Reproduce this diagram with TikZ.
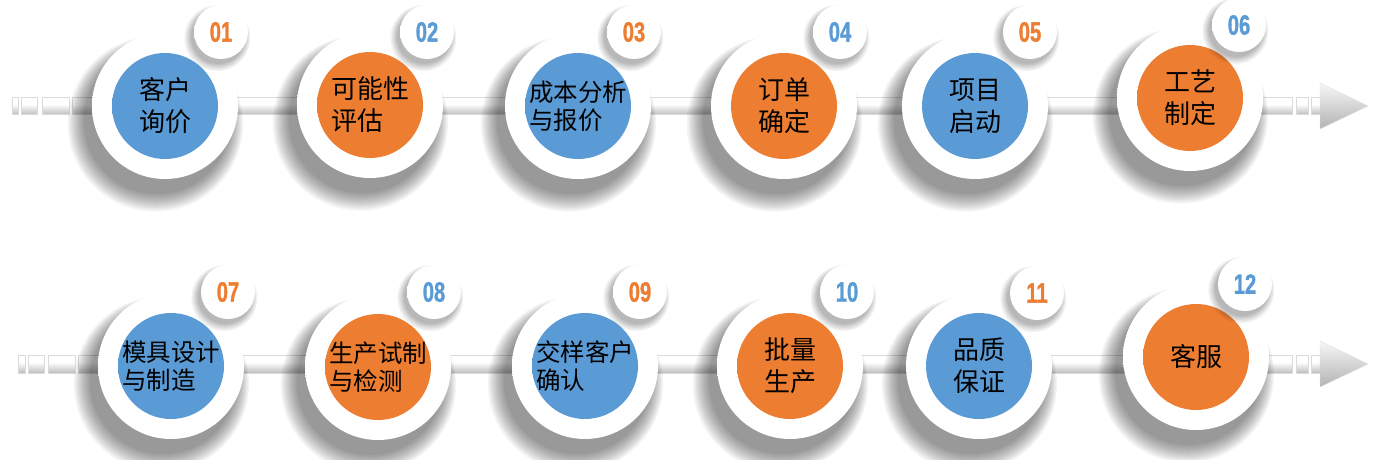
\documentclass[tikz,border=0pt]{standalone}
\usepackage{fontspec}
\usepackage{tikz}
\usetikzlibrary{calc,shadows,backgrounds}

\newfontfamily\cjk{Noto Sans CJK SC}
\newfontfamily\numfont[FakeStretch=0.72,FakeBold=1]{Liberation Sans}

\definecolor{stepblue}{HTML}{5B9BD5}
\definecolor{steporange}{HTML}{ED7D31}

% shadings for rings, discs and bars
\pgfdeclareradialshading{ringshade}{\pgfpointorigin}{color(0bp)=(white); color(42bp)=(white); color(48bp)=(black!4); color(50bp)=(black!12)}
\pgfdeclareradialshading{discblue}{\pgfpoint{-3bp}{-7bp}}{color(0bp)=(stepblue); color(41bp)=(stepblue); color(50bp)=(stepblue!75!black)}
\pgfdeclareradialshading{discorange}{\pgfpoint{-3bp}{-7bp}}{color(0bp)=(steporange); color(41bp)=(steporange); color(50bp)=(steporange!75!black)}
\pgfdeclareverticalshading{barshade}{100bp}{color(0bp)=(black!48); color(15bp)=(black!34); color(55bp)=(white); color(86bp)=(white); color(100bp)=(black!24)}

\begin{document}
\begin{tikzpicture}[
      x=1pt, y=-1pt,
      haze/.style={general shadow={shadow scale=#1, shadow xshift=-8pt, shadow yshift=-15pt, fill=black, opacity=.042}},
      smallhaze/.style={general shadow={shadow scale=#1, shadow xshift=-3pt, shadow yshift=-5pt, fill=black, opacity=.05}},
      ring/.style={circle, minimum size=146pt, inner sep=0pt, shade, shading=ringshade,
        haze=1.20, haze=1.18, haze=1.16, haze=1.14, haze=1.12, haze=1.10, haze=1.08, haze=1.06, haze=1.04, haze=1.02, haze=1.0,
        font=\cjk\fontsize{26}{32}\selectfont, align=center},
      disc/.style={path picture={\shade[shading=#1] (path picture bounding box.center) circle (53pt);}},
      wide/.style={align=left, font=\cjk\fontsize{24.5}{28}\selectfont},
      badge/.style={circle, minimum size=54pt, inner sep=0pt, shade, shading=ringshade,
        smallhaze=1.22, smallhaze=1.17, smallhaze=1.12, smallhaze=1.08, smallhaze=1.04, smallhaze=1.0,
        font=\numfont\bfseries\fontsize{28}{28}\selectfont},
      bar/.style={shade, shading=barshade, draw=black!14, line width=.4pt},
      pointer/.style={top color=black!3, bottom color=black!30, draw=black!12, line width=.4pt}]
    \useasboundingbox (0,0) rectangle (1383,460);
    % first row
    \node[ring, disc=discblue]   (s1)  at (165,106)  {客户\\询价};
    \node[badge, text=steporange] (b1) at (221,32)   {01};
    \node[ring, disc=discorange, align=left] (s2) at (370,105) {可能性\\评估};
    \node[badge, text=stepblue]   (b2) at (427,32)   {02};
    \node[ring, disc=discblue, wide] (s3) at (578,106) {成本分析\\与报价};
    \node[badge, text=steporange] (b3) at (634,32)   {03};
    \node[ring, disc=discorange] (s4)  at (784,106)  {订单\\确定};
    \node[badge, text=stepblue]   (b4) at (840,32)   {04};
    \node[ring, disc=discblue]   (s5)  at (975,106)  {项目\\启动};
    \node[badge, text=steporange] (b5) at (1030,32)  {05};
    \node[ring, disc=discorange] (s6)  at (1190,98)  {工艺\\制定};
    \node[badge, text=stepblue]   (b6) at (1239,25)  {06};
    % second row
    \node[ring, disc=discblue, wide] (s7) at (171,366) {模具设计\\与制造};
    \node[badge, text=steporange] (b7) at (228,292)  {07};
    \node[ring, disc=discorange, wide] (s8) at (378,367) {生产试制\\与检测};
    \node[badge, text=stepblue]   (b8) at (434,292)  {08};
    \node[ring, disc=discblue, wide] (s9) at (585,366) {交样客户\\确认};
    \node[badge, text=steporange] (b9) at (640,292)  {09};
    \node[ring, disc=discorange] (s10) at (790,366)  {批量\\生产};
    \node[badge, text=stepblue]   (b10) at (847,292) {10};
    \node[ring, disc=discblue]   (s11) at (979,366)  {品质\\保证};
    \node[badge, text=steporange] (b11) at (1037,293) {11};
    \node[ring, disc=discorange] (s12) at (1196,357) {客服};
    \node[badge, text=stepblue]   (b12) at (1245,284) {12};
    \coordinate (tip1) at (1368,106);
    \coordinate (tip2) at (1368,364);
    \begin{scope}[on background layer]
      \fill[white] (0,0) rectangle (1383,460);
      \coordinate (axisA) at (0,106);
      \coordinate (axisB) at (0,364);
      % lead-in pieces
      \path[bar] (12,97.5) rectangle (18,114.5);
      \path[bar] (21,97.5) rectangle (37,114.5);
      \path[bar] (42,97.5) rectangle (69,114.5);
      \path[bar] (72,97.5) rectangle ($(s1 |- axisA)+(0,8.5)$);
      \path[bar] (18,355) rectangle (25,373);
      \path[bar] (28,355) rectangle (44,373);
      \path[bar] (48,355) rectangle (75,373);
      \path[bar] (78,355) rectangle ($(s7 |- axisB)+(0,9)$);
      % links
      \path[bar] ($(s1 |- axisA)+(0,-8.5)$) rectangle ($(s2 |- axisA)+(0,8.5)$);
      \path[bar] ($(s2 |- axisA)+(0,-8.5)$) rectangle ($(s3 |- axisA)+(0,8.5)$);
      \path[bar] ($(s3 |- axisA)+(0,-8.5)$) rectangle ($(s4 |- axisA)+(0,8.5)$);
      \path[bar] ($(s4 |- axisA)+(0,-8.5)$) rectangle ($(s5 |- axisA)+(0,8.5)$);
      \path[bar] ($(s5 |- axisA)+(0,-8.5)$) rectangle ($(s6 |- axisA)+(0,8.5)$);
      \path[bar] ($(s7 |- axisB)+(0,-9)$) rectangle ($(s8 |- axisB)+(0,9)$);
      \path[bar] ($(s8 |- axisB)+(0,-9)$) rectangle ($(s9 |- axisB)+(0,9)$);
      \path[bar] ($(s9 |- axisB)+(0,-9)$) rectangle ($(s10 |- axisB)+(0,9)$);
      \path[bar] ($(s10 |- axisB)+(0,-9)$) rectangle ($(s11 |- axisB)+(0,9)$);
      \path[bar] ($(s11 |- axisB)+(0,-9)$) rectangle ($(s12 |- axisB)+(0,9)$);
      % end pieces and arrow heads
      \path[bar] ($(s6 |- axisA)+(0,-8.5)$) rectangle (1292,114.5);
      \path[bar] (1296,97.5) rectangle (1308,114.5);
      \path[bar] (1311,97.5) rectangle (1320,114.5);
      \path[pointer] (1320,83) -- (tip1) -- (1320,129) -- cycle;
      \path[bar] ($(s12 |- axisB)+(0,-9)$) rectangle (1292,373);
      \path[bar] (1296,355) rectangle (1308,373);
      \path[bar] (1311,355) rectangle (1320,373);
      \path[pointer] (1320,341) -- (tip2) -- (1320,387) -- cycle;
    \end{scope}
  \end{tikzpicture}
\end{document}
